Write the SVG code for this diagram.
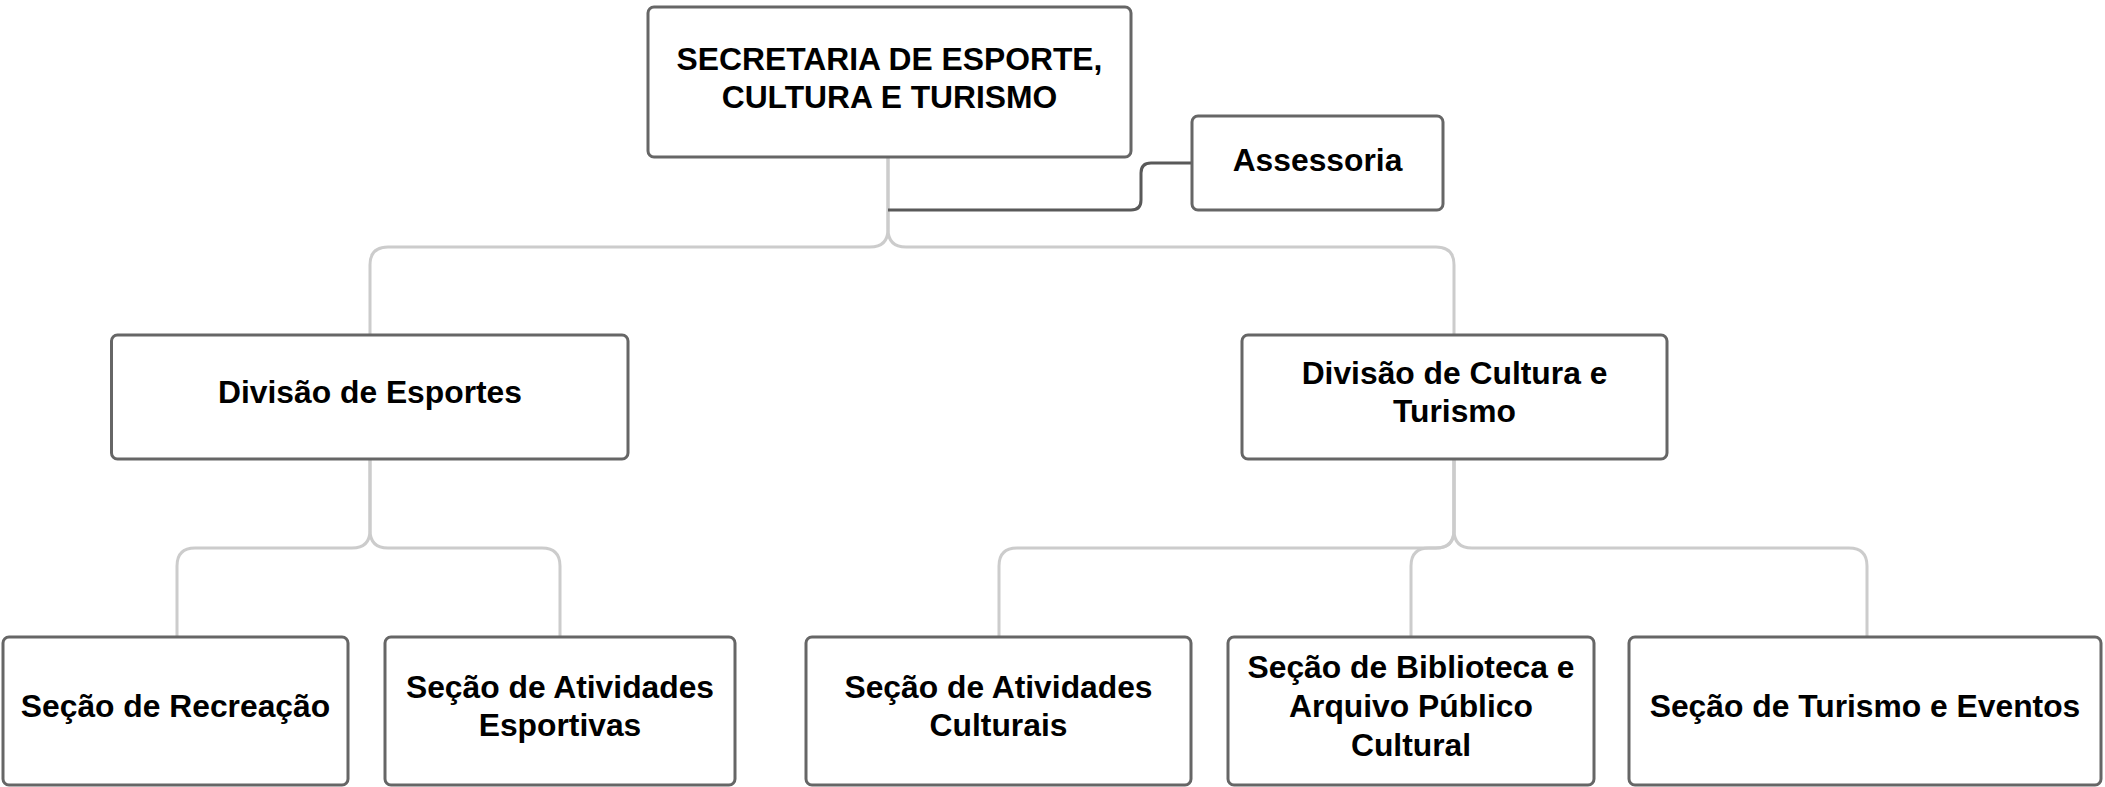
<svg xmlns="http://www.w3.org/2000/svg" width="2105" height="787" viewBox="0 0 2105 787">
<style>
.box{fill:#ffffff;stroke:#666666;stroke-width:3}
.lbl{font-family:"Liberation Sans",Arial,sans-serif;font-weight:bold;font-size:31.8px;fill:#000000;text-anchor:middle}
.link{fill:none;stroke:#cccccc;stroke-width:3}
.link2{fill:none;stroke:#595959;stroke-width:3}
</style>
<rect width="2105" height="787" fill="#ffffff"/>
<g id="connectors">
<path class="link" d="M888,157 V229 Q888,247 870,247 H388 Q370,247 370,265 V335"/>
<path class="link" d="M888,157 V229 Q888,247 906,247 H1436 Q1454,247 1454,265 V335"/>
<path class="link" d="M370,459 V530 Q370,548 352,548 H195 Q177,548 177,566 V637"/>
<path class="link" d="M370,459 V530 Q370,548 388,548 H542 Q560,548 560,566 V637"/>
<path class="link" d="M1454,459 V530 Q1454,548 1436,548 H1017 Q999,548 999,566 V637"/>
<path class="link" d="M1454,459 V530 Q1454,548 1436,548 H1429 Q1411,548 1411,566 V637"/>
<path class="link" d="M1454,459 V530 Q1454,548 1472,548 H1849 Q1867,548 1867,566 V637"/>
<path class="link2" d="M888,210 H1131 Q1141,210 1141,200 V173 Q1141,163 1151,163 H1192"/>
</g>
<g id="secretaria">
<rect class="box" x="648" y="7" width="483" height="150" rx="6"/>
<text class="lbl" x="889.5" y="70">SECRETARIA DE ESPORTE,</text>
<text class="lbl" x="889.5" y="108">CULTURA E TURISMO</text>
</g>
<g id="assessoria">
<rect class="box" x="1192" y="116" width="251" height="94" rx="6"/>
<text class="lbl" x="1317.5" y="171">Assessoria</text>
</g>
<g id="div-esportes">
<rect class="box" x="111.5" y="335" width="516.5" height="124" rx="6"/>
<text class="lbl" x="370" y="403">Divisão de Esportes</text>
</g>
<g id="div-cultura">
<rect class="box" x="1242" y="335" width="425" height="124" rx="6"/>
<text class="lbl" x="1454.5" y="384">Divisão de Cultura e</text>
<text class="lbl" x="1454.5" y="422">Turismo</text>
</g>
<g id="sec-recreacao">
<rect class="box" x="3" y="637" width="345" height="148" rx="6"/>
<text class="lbl" x="175.5" y="717">Seção de Recreação</text>
</g>
<g id="sec-ativ-esportivas">
<rect class="box" x="385" y="637" width="350" height="148" rx="6"/>
<text class="lbl" x="560" y="698">Seção de Atividades</text>
<text class="lbl" x="560" y="736">Esportivas</text>
</g>
<g id="sec-ativ-culturais">
<rect class="box" x="806" y="637" width="385" height="148" rx="6"/>
<text class="lbl" x="998.5" y="698">Seção de Atividades</text>
<text class="lbl" x="998.5" y="736">Culturais</text>
</g>
<g id="sec-biblioteca">
<rect class="box" x="1228" y="637" width="366" height="148" rx="6"/>
<text class="lbl" x="1411" y="678">Seção de Biblioteca e</text>
<text class="lbl" x="1411" y="717">Arquivo Público</text>
<text class="lbl" x="1411" y="756">Cultural</text>
</g>
<g id="sec-turismo">
<rect class="box" x="1629" y="637" width="472" height="148" rx="6"/>
<text class="lbl" x="1865" y="717">Seção de Turismo e Eventos</text>
</g>
</svg>
